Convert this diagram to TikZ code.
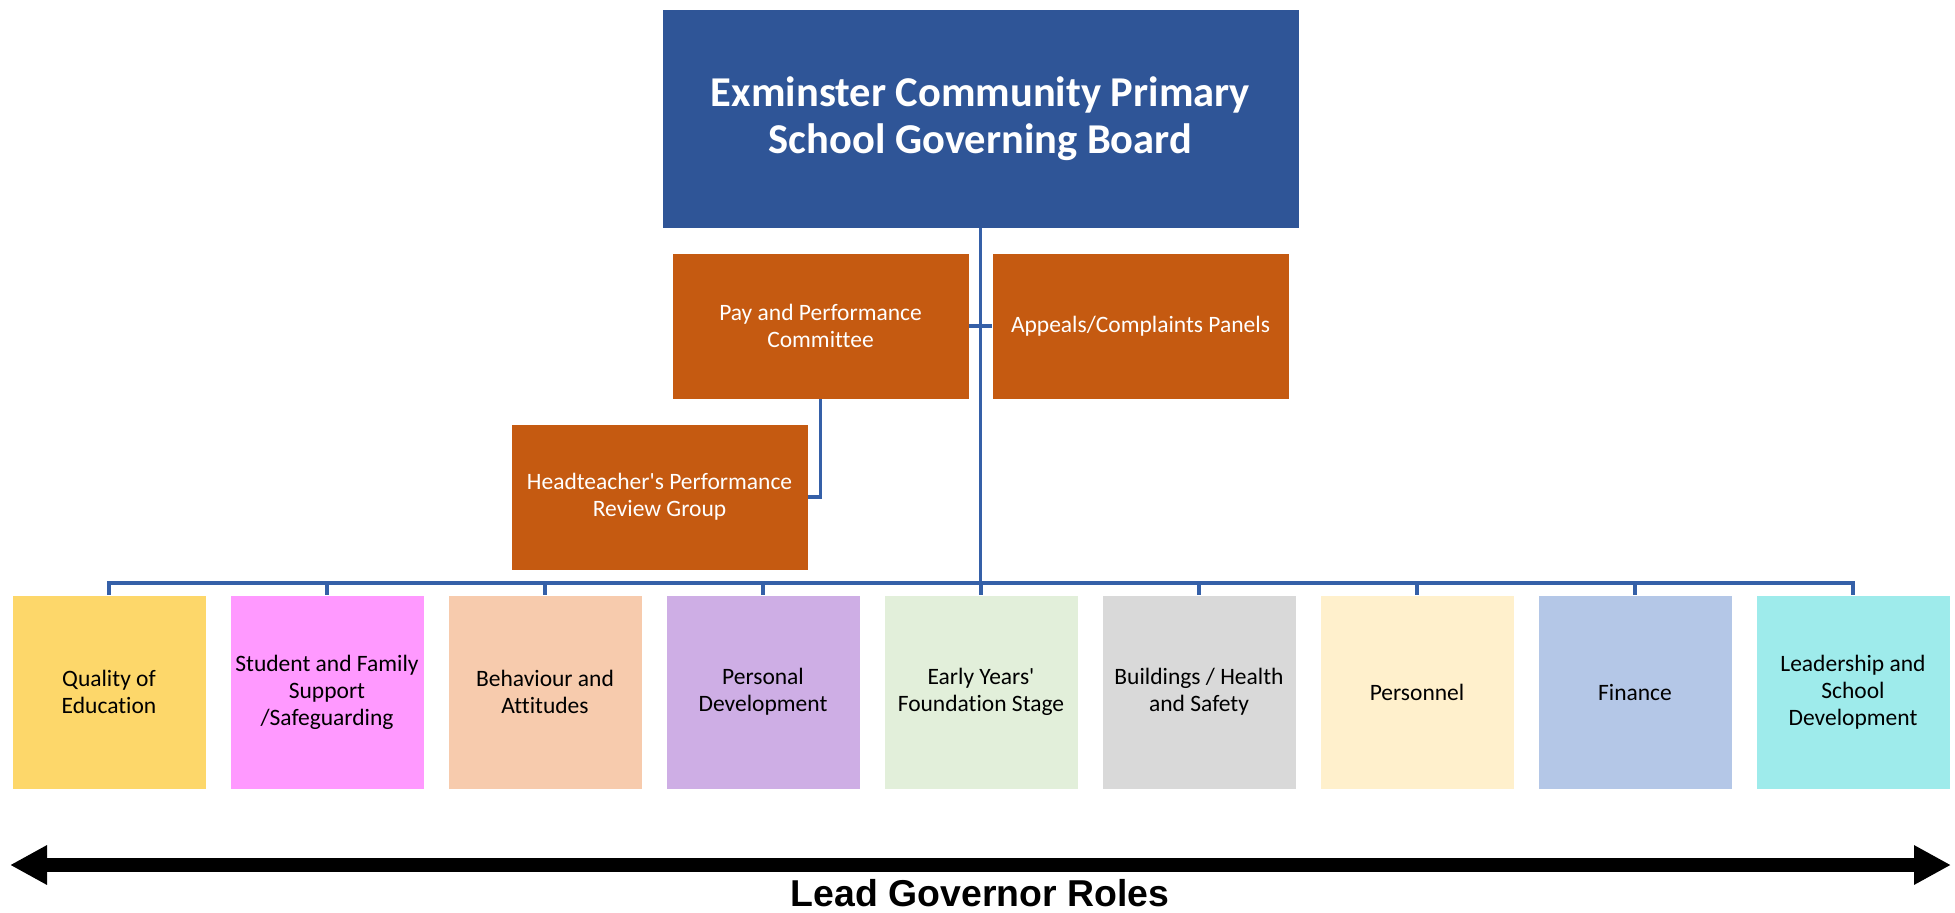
\documentclass[tikz,border=0pt]{standalone}
\usepackage{fontspec}
\setmainfont{Carlito}[Ligatures={TeXOff,NoCommon}]
\newfontfamily\arialfont{Liberation Sans}
\usetikzlibrary{arrows.meta}
\definecolor{boardblue}{HTML}{2F5597}
\definecolor{linkblue}{HTML}{3560A8}
\definecolor{comorange}{HTML}{C55A11}
\definecolor{cQ}{HTML}{FDD76A}
\definecolor{cS}{HTML}{FF99FF}
\definecolor{cB}{HTML}{F7CBAD}
\definecolor{cP}{HTML}{CEAEE5}
\definecolor{cE}{HTML}{E2EFDA}
\definecolor{cBu}{HTML}{D9D9D9}
\definecolor{cPe}{HTML}{FFF0CC}
\definecolor{cF}{HTML}{B4C7E7}
\definecolor{cL}{HTML}{9EEBEB}
\tikzset{
  board/.style={fill=boardblue, draw=white, line width=0.8pt, inner sep=0pt,
    minimum width=637pt, minimum height=219pt, text=white, align=center,
    font=\fontsize{42.5}{47}\selectfont\bfseries},
  committee/.style={fill=comorange, draw=white, line width=0.8pt, inner sep=0pt,
    minimum width=297pt, minimum height=146pt, text=white, align=center,
    font=\fontsize{23.5}{27}\selectfont},
  role/.style={fill=#1, draw=white, line width=0.8pt, inner sep=0pt,
    minimum width=194pt, minimum height=194pt, text=black, align=center,
    font=\fontsize{23.5}{27}\selectfont},
  conn/.style={draw=linkblue, line width=3.2pt},
}
\begin{document}
\begin{tikzpicture}[x=1pt,y=-1pt]
\useasboundingbox (0,0) rectangle (1955,913);
\node[board] (top) at (980.5,118.5) {Exminster Community Primary\\School Governing Board};
\node[committee] (pay) at (820.5,326) {Pay and Performance\\Committee};
\node[committee] (app) at (1140.5,326) {Appeals/Complaints Panels};
\node[committee] (ht) at (659.5,497) {Headteacher's Performance\\Review Group};
\node[role=cQ]  (b1) at (109,692)  {Quality of\\Education};
\node[role=cS]  (b2) at (327,692)  {Student and Family\\Support\\/Safeguarding};
\node[role=cB]  (b3) at (545,692)  {Behaviour and\\Attitudes};
\node[role=cP]  (b4) at (763,692)  {Personal\\Development};
\node[role=cE]  (b5) at (981,692)  {Early Years'\\Foundation Stage};
\node[role=cBu] (b6) at (1199,692) {Buildings / Health\\and Safety};
\node[role=cPe] (b7) at (1417,692) {Personnel};
\node[role=cF]  (b8) at (1635,692) {Finance};
\node[role=cL]  (b9) at (1853,692) {Leadership and\\School\\Development};
\coordinate (bus) at (0,583);
% connectors
\draw[conn] (top.south) -- (top.south |- bus);
\draw[conn] (b1.north) -- (b1.north |- bus) -- (b9.north |- bus) -- (b9.north);
\foreach \i in {2,...,8} { \draw[conn] (b\i.north) -- (b\i.north |- bus); }
\draw[conn] (pay.east) -- (app.west);
\draw[conn] (pay.south) |- (ht.east);
% lead governor arrow
\coordinate (aL) at (10,865);
\coordinate (aR) at (1951,865);
\draw[line width=14pt, {Triangle[length=37pt,width=37pt]}-{Triangle[length=37pt,width=37pt]}] (aL) -- (aR);
\node[anchor=base, inner sep=0pt, font=\arialfont\fontsize{37.4}{40}\selectfont\bfseries] (lbl) at (980,906) {Lead Governor Roles};
\end{tikzpicture}
\end{document}
